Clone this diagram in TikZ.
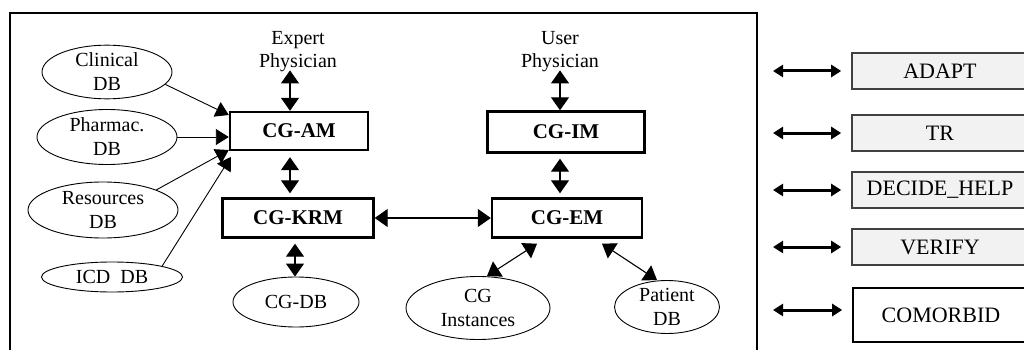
\documentclass[tikz,border=0pt]{standalone}
\usepackage{fontspec}
\setmainfont{Liberation Serif}
\usetikzlibrary{shapes.geometric,arrows.meta,positioning}

\tikzset{
  dbnode/.style={ellipse, draw, line width=0.9pt, inner sep=0pt, align=center, font=\fontsize{20}{24}\selectfont},
  module/.style={rectangle, draw, line width=2.4pt, inner sep=0pt, font=\fontsize{21}{24}\selectfont\bfseries},
  actor/.style={align=center, inner sep=1pt, font=\fontsize{20}{23}\selectfont},
  sidebox/.style={rectangle, draw=black!75, line width=1.6pt, fill=black!5, minimum width=176pt, minimum height=36pt, inner sep=0pt, font=\fontsize{22}{24}\selectfont},
  link/.style={-{Triangle[length=13pt,width=16pt]}, line width=0.9pt},
  bilink/.style={{Triangle[length=13pt,width=18pt]}-{Triangle[length=13pt,width=18pt]}, line width=1.1pt},
  sidelink/.style={{Triangle[length=10pt,width=12pt]}-{Triangle[length=10pt,width=12pt]}, line width=3pt},
}

\begin{document}
\begin{tikzpicture}[x=1pt, y=-1pt]
    \useasboundingbox (0,0) rectangle (1024,350);
    \clip (0,0) rectangle (1024,350);
    % frame of the system
    \draw[line width=1.5pt] (10,352) -- (10,13) -- (757,13) -- (757,352);

    % data bases
    \node[dbnode, minimum width=130pt, minimum height=52pt] (clinical) at (107,72) {Clinical\\DB};
    \node[dbnode, minimum width=140pt, minimum height=55pt] (pharmac) at (107,137) {Pharmac.\\DB};
    \node[dbnode, minimum width=150pt, minimum height=56pt] (resources) at (103,210) {Resources\\DB};
    \node[dbnode, minimum width=141pt, minimum height=30pt] (icd) at (112,277) {ICD\ \ DB};
    \node[dbnode, minimum width=126pt, minimum height=50pt] (cgdb) at (296,302) {CG-DB};
    \node[dbnode, minimum width=144pt, minimum height=63pt] (instances) at (478,308) {CG\\Instances};
    \node[dbnode, minimum width=105pt, minimum height=53pt] (patient) at (667,307) {Patient\\DB};

    % modules
    \node[module, minimum width=138pt, minimum height=38pt] (cgam) at (299,131) {CG-AM};
    \node[module, minimum width=151pt, minimum height=39pt] (cgkrm) at (298,218) {CG-KRM};
    \node[module, minimum width=157pt, minimum height=41pt] (cgim) at (566,132) {CG-IM};
    \node[module, minimum width=150pt, minimum height=39pt] (cgem) at (567,218) {CG-EM};

    % physicians
    \node[actor] (expert) at (298,52) {Expert\\Physician};
    \node[actor] (user) at (560,52) {User\\Physician};

    % links
    \draw[link] (clinical.-12) -- ([yshift=16pt]cgam.west);
    \draw[link] (pharmac.east) -- (pharmac.east -| cgam.west);
    \draw[link] (resources.north east) -- ([yshift=-19pt]cgam.west);
    \draw[link] (icd.north east) -- ([yshift=-26pt,xshift=2pt]cgam.west);
    \draw[bilink] ([yshift=3pt]expert.south -| 290,0) -- ([xshift=-9pt]cgam.north);
    \draw[bilink] ([xshift=-9pt,yshift=-6pt]cgam.south) -- ([xshift=-8pt,yshift=4pt]cgkrm.north);
    \draw[bilink] ([xshift=-3pt,yshift=-5pt]cgkrm.south) -- ([xshift=-1pt]cgdb.north);
    \draw[bilink] ([yshift=3pt]user.south) -- ([xshift=-6pt]cgim.north);
    \draw[bilink] ([xshift=-6pt,yshift=-5pt]cgim.south) -- ([xshift=-7pt,yshift=4pt]cgem.north);
    \draw[bilink] (cgkrm.east) -- (cgem.west);
    \draw[bilink] ([xshift=-30pt,yshift=-5pt]cgem.south) -- ([xshift=9pt]instances.north);
    \draw[bilink] ([xshift=35pt,yshift=-5pt]cgem.south) -- ([xshift=-10pt]patient.north);

    % services
    \node[sidebox] (adapt) at (940,71) {ADAPT};
    \node[sidebox] (tr) at (940,133) {TR};
    \node[sidebox] (decide) at (940,190) {DECIDE\_HELP};
    \node[sidebox] (verify) at (940,247) {VERIFY};
    \node[sidebox, fill=white, draw=black, minimum height=54pt] (comorbid) at (941,315) {COMORBID};
    \foreach \s/\y in {adapt/71, tr/133, decide/190, verify/247, comorbid/310} {
        \coordinate (\s-in) at (773,\y);
        \draw[sidelink, shorten >=10pt] (\s-in) -- (\s-in -| \s.west);
    }
\end{tikzpicture}
\end{document}
